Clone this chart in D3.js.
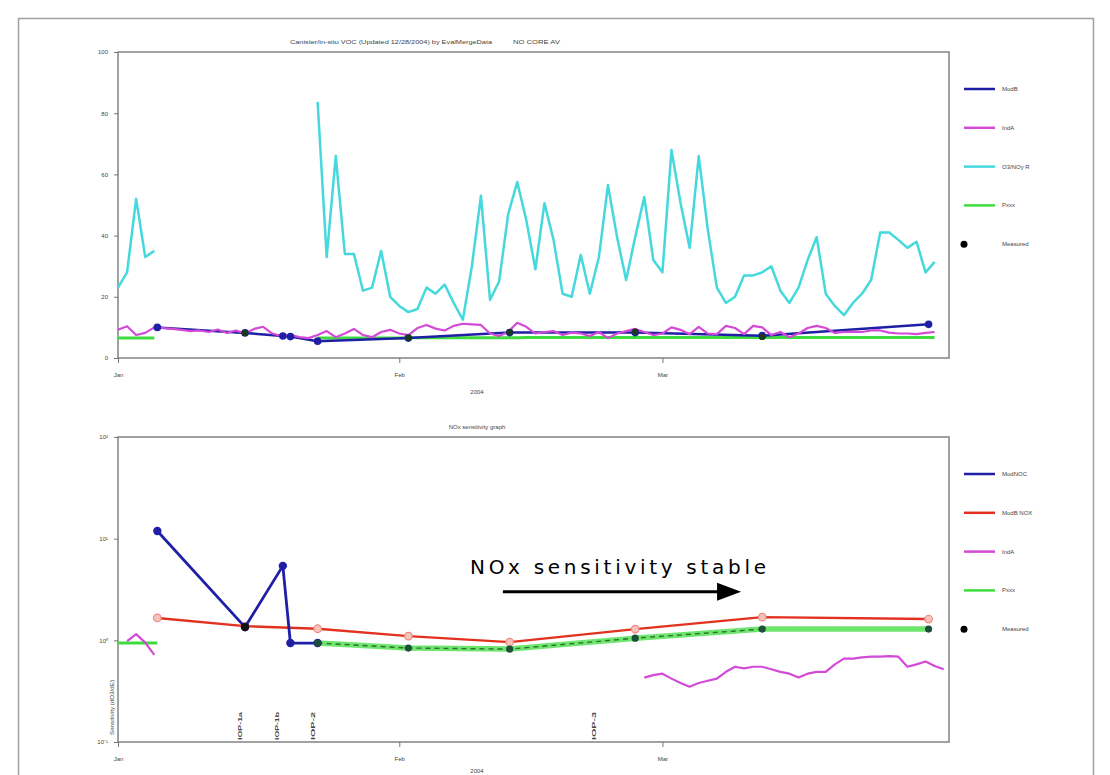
<!DOCTYPE html>
<html>
<head>
<meta charset="utf-8">
<script src="https://cdn.jsdelivr.net/npm/d3@7/dist/d3.min.js"></script>
<style>
  html,body{margin:0;padding:0;background:#fff;}
  svg{display:block;}
  .tiny{font-family:"Liberation Sans",Arial,sans-serif;font-size:6px;fill:#444;}
</style>
</head>
<body>
<svg id="chart" width="1110" height="775"></svg>
<script>
// ---------------- DATA ----------------
const monthTicks = ["2004-01-01","2004-02-01","2004-03-01"];
const monthLabels = ["Jan","Feb","Mar"];
const yearLabel = "2004";

const topTitle1 = "Canister/in-situ VOC (Updated 12/28/2004) by EvalMergeData";
const topTitle2 = "NO CORE AV";
const bottomTitle = "NOx sensitivity graph";

const topYTicks = [0,20,40,60,80,100];
const bottomYTicks = [0.1,1,10,100];
const bottomYLabels = ["10\u207B\u00B9","10\u2070","10\u00B9","10\u00B2"];

const topLegend = ["ModB","IndA","O3/NOy R","Pxxx","Measured"];
const bottomLegend = ["ModNOC","ModB NOX","IndA","Pxxx","Measured"];

// top panel: cyan daily series (two segments)
const cyanSeg1Start = "2004-01-01";
const cyanSeg1 = [23,28,52,33,35];
const cyanSeg2Start = "2004-01-23";
const cyanSeg2 = [83.7,33,66,34,34,22,23,35,20,17,15,16,23,21,24,18,12.5,30,53,19,25,47,57.5,45,29,50.6,38.6,21,20,33.7,21,33,56.5,39.5,25.5,39.5,52.6,32,28,68,50.6,36,66,42,23,
                  18,20,27,27,28,30,22,18,23,32,39.5,21,17,14,18,21,25.5,41,41,38.6,36,38,28,31.4];

// top panel: magenta daily series
const topMagentaStart = "2004-01-01";
const topMagenta = [9.2,10.4,7.5,8.2,10,
  9.8,9.5,9.2,8.8,9.0,8.5,9.3,8.2,9.0,
  8.0,9.5,10.2,8.0,7.2,7.5,6.8,6.5,
  7.5,8.8,6.8,8.0,9.5,7.5,6.8,8.5,9.2,
  8.0,7.5,9.8,10.8,9.6,9.0,10.5,11.2,11.0,10.8,
  8.0,7.2,8.5,11.5,10.2,8.0,8.5,8.8,7.5,8.3,
  8.0,7.2,8.5,6.5,8.0,8.8,9.5,8.5,7.5,8.0,
  10.0,9.2,7.8,10.2,8.0,7.8,10.5,9.8,7.8,10.5,
  10.0,7.5,8.5,6.8,8.0,9.8,10.5,9.8,8.2,8.5,
  8.6,8.5,9.0,9.0,8.3,8.0,8.0,7.8,8.2,8.5];

// top panel: green series (two segments)
const topGreenSeg1Start = "2004-01-01";
const topGreenSeg1 = [6.5,6.5,6.5,6.5,6.5];
const topGreenSeg2Start = "2004-01-23";
const topGreenSeg2 = [6.5,6.5,6.5,6.5,6.5,6.5,6.5,6.5,6.5,6.5,6.6,6.6,6.6,6.6,6.6,6.6,6.6,6.6,6.6,6.6,6.6,6.6,6.6,
  6.7,6.7,6.7,6.7,6.7,6.7,6.7,6.7,6.7,6.7,6.7,6.7,6.7,6.7,6.7,6.7,6.7,6.7,6.7,6.7,6.7,6.7,6.7,
  6.7,6.7,6.7,6.7,6.7,6.7,6.7,6.7,6.7,6.7,6.7,6.7,6.7,6.7,6.7,6.7,6.7,6.7,6.7,6.7,6.7,6.7,6.7];

// top panel: model (blue) points
const topModelDates = ["2004-01-05T08","2004-01-15T00","2004-01-19T04","2004-01-20T00","2004-01-23T00","2004-02-02T00","2004-02-13T04","2004-02-27T00","2004-03-12T00","2004-03-30T08"];
const topModelValues = [10,8.2,7.2,7,5.5,6.5,8.3,8.3,7.3,11];
// top panel: measured dots
const topMeasuredDates = ["2004-01-15T00","2004-02-02T00","2004-02-13T04","2004-02-27T00","2004-03-12T00"];
const topMeasuredValues = [8.2,6.6,8.4,8.6,6.9];

// bottom panel: ModNOC (blue)
const nocDates = ["2004-01-05T08","2004-01-15T00","2004-01-19T04","2004-01-20T00","2004-01-23T00"];
const nocValues = [11.9,1.35,5.4,0.94,0.94];
// bottom panel: NOX (red)
const noxDates = ["2004-01-05T08","2004-01-15T00","2004-01-23T00","2004-02-02T00","2004-02-13T04","2004-02-27T00","2004-03-12T00","2004-03-30T08"];
const noxValues = [1.66,1.38,1.3,1.10,0.96,1.29,1.69,1.62];
// bottom panel: green
const pSeg1Dates = ["2004-01-01T00","2004-01-05T08"];
const pSeg1Values = [0.94,0.94];
const pSeg2Dates = ["2004-01-23T00","2004-02-02T00","2004-02-13T04","2004-02-27T00","2004-03-12T00","2004-03-30T08"];
const pSeg2Values = [0.94,0.84,0.82,1.05,1.29,1.29];
// bottom panel: magenta
const indSeg1Start = "2004-01-02";
const indSeg1 = [0.98,1.15,0.95,0.72];
const indSeg2Start = "2004-02-28";
const indSeg2 = [0.43,0.455,0.47,0.42,0.38,0.35,0.38,0.40,0.42,0.49,0.55,0.53,0.55,0.55,0.52,0.49,0.47,0.43,0.47,0.49,0.49,0.58,0.66,0.66,0.68,0.69,0.69,0.70,0.69,0.55,0.58,0.62,0.56,0.52];
// bottom panel: measured dot
const bMeasuredDates = ["2004-01-15T00"];
const bMeasuredValues = [1.35];
// bottom panel: events
const eventDates = ["2004-01-14T12","2004-01-18T12","2004-01-22T12","2004-02-22T12"];
const eventLabels = ["IOP-1a","IOP-1b","IOP-2","IOP-3"];
const yAxisBottomLabel = "Sensitivity (dO3/dE)";

// annotation
const annotText = "NOx sensitivity stable";
const arrowDates = ["2004-02-12T10","2004-03-09T16"];
const arrowValue = 3;
const annotValue = 4.5;

// ---------------- DRAW ----------------
const pDay = d3.timeParse("%Y-%m-%d");
const pHour = d3.timeParse("%Y-%m-%dT%H");
const pd = s => s.length > 10 ? pHour(s) : pDay(s);
const daily = (start, vals) => vals.map((v,i) => ({date: d3.timeDay.offset(pd(start), i), v}));
const pts = (ds, vs) => ds.map((d,i) => ({date: pd(d), v: vs[i]}));

const svg = d3.select("#chart");
svg.append("rect").attr("x",0).attr("y",0).attr("width",1110).attr("height",775).attr("fill","#fff");
svg.append("rect").attr("x",18.5).attr("y",18.5).attr("width",1075).attr("height",780)
   .attr("fill","none").attr("stroke","#a0a0a0").attr("stroke-width",1.5);

const L = 118, R = 949;
const x = d3.scaleTime().domain([new Date(2004,0,1), new Date(2004,3,1,14)]).range([L,R]);
const yTop = d3.scaleLinear().domain([0,100]).range([358,52]);
const yBot = d3.scaleLog().domain([0.1,100]).range([742,437]);

const C = {blue:"#1f1fa6", magenta:"#d24ad6", cyan:"#45d8dc", green:"#3fdc3f", red:"#e2321f", black:"#000"};

function frame(y0,y1){
  svg.append("rect").attr("x",L).attr("y",y0).attr("width",R-L).attr("height",y1-y0)
     .attr("fill","none").attr("stroke","#8a8a8a").attr("stroke-width",1.6);
}
function axes(y, yTicks, yFmt, yBottomPx){
  const ga = svg.append("g").attr("transform",`translate(${L},0)`)
     .call(d3.axisLeft(y).tickValues(yTicks).tickFormat(yFmt).tickSize(4).tickPadding(6));
  ga.select(".domain").remove();
  ga.selectAll("line").attr("stroke","#777");
  ga.selectAll("text").attr("class","tiny").attr("font-size",null).attr("font-family",null).attr("fill","#444");
  const gx = svg.append("g").attr("transform",`translate(0,${yBottomPx})`)
     .call(d3.axisBottom(x).tickValues(monthTicks.map(pd)).tickFormat((d,i)=>monthLabels[i]).tickSize(5).tickPadding(10));
  gx.select(".domain").remove();
  gx.selectAll("line").attr("stroke","#777");
  gx.selectAll("text").attr("class","tiny").attr("font-size",null).attr("font-family",null).attr("fill","#444");
}

function drawLine(data, y, color, w, dash){
  const line = d3.line().defined(d=>d.v!=null).x(d=>x(d.date)).y(d=>y(d.v));
  svg.append("path").datum(data).attr("d",line).attr("fill","none")
     .attr("stroke",color).attr("stroke-width",w).attr("stroke-linejoin","round")
     .attr("stroke-dasharray",dash||null);
}
function drawDots(data, y, fill, r, stroke){
  svg.append("g").selectAll("circle").data(data).join("circle")
     .attr("cx",d=>x(d.date)).attr("cy",d=>y(d.v)).attr("r",r)
     .attr("fill",fill).attr("stroke",stroke||"none").attr("stroke-width",1.2);
}
function legend(items, colors, y0){
  const g = svg.append("g");
  items.forEach((t,i)=>{
    const yy = y0 + i*38.8;
    if (i < items.length-1) {
      g.append("line").attr("x1",964).attr("x2",995).attr("y1",yy).attr("y2",yy)
       .attr("stroke",colors[i]).attr("stroke-width",2.5);
    } else {
      g.append("circle").attr("cx",964).attr("cy",yy).attr("r",3.5).attr("fill","#000");
    }
    g.append("text").attr("x",1002).attr("y",yy+2).attr("class","tiny").attr("fill",colors[i]).text(t);
  });
}

// ---- TOP PANEL ----
svg.append("text").attr("x",290).attr("y",44).attr("class","tiny").attr("textLength",202).attr("lengthAdjust","spacingAndGlyphs").text(topTitle1);
svg.append("text").attr("x",513).attr("y",44).attr("class","tiny").attr("textLength",47).attr("lengthAdjust","spacingAndGlyphs").text(topTitle2);
frame(52,358);
axes(yTop, topYTicks, d=>String(d), 358);
svg.append("text").attr("x",477).attr("y",394).attr("class","tiny").attr("text-anchor","middle").text(yearLabel);

drawLine(daily(topGreenSeg1Start, topGreenSeg1), yTop, C.green, 3);
drawLine(daily(topGreenSeg2Start, topGreenSeg2), yTop, C.green, 3);
drawLine(daily(cyanSeg1Start, cyanSeg1), yTop, C.cyan, 2.5);
drawLine(daily(cyanSeg2Start, cyanSeg2), yTop, C.cyan, 2.5);
drawLine(pts(topModelDates, topModelValues), yTop, C.blue, 2.5);
drawLine(daily(topMagentaStart, topMagenta), yTop, C.magenta, 2.2);
drawDots(pts(topModelDates, topModelValues), yTop, C.blue, 3.8);
drawDots(pts(topMeasuredDates, topMeasuredValues), yTop, "#1a3a1a", 3.2);
legend(topLegend, [C.blue,C.magenta,C.cyan,C.green,"#000"], 89);

// ---- BOTTOM PANEL ----
svg.append("text").attr("x",477).attr("y",429).attr("class","tiny").attr("text-anchor","middle").text(bottomTitle);
frame(437,742);
axes(yBot, bottomYTicks, (d,i)=>bottomYLabels[i], 742);
svg.append("text").attr("x",477).attr("y",773).attr("class","tiny").attr("text-anchor","middle").text(yearLabel);
svg.append("text").attr("transform",`translate(114,735) rotate(-90)`).attr("class","tiny")
   .attr("textLength",55).attr("lengthAdjust","spacingAndGlyphs").text(yAxisBottomLabel);

// events
const ev = svg.append("g");
eventDates.forEach((d,i)=>{
  ev.append("text").attr("transform",`translate(${x(pd(d))+2},740) rotate(-90)`).attr("class","tiny")
    .attr("font-weight","bold").attr("fill","#222").attr("textLength",28).attr("lengthAdjust","spacingAndGlyphs").text(eventLabels[i]);
});

drawLine(pts(pSeg1Dates,pSeg1Values), yBot, C.green, 3);
drawLine(pts(pSeg2Dates,pSeg2Values), yBot, "#6ee66e", 5.5);
drawLine(pts(pSeg2Dates.slice(0,5),pSeg2Values.slice(0,5)), yBot, "#2f6f2f", 1.4, "5,4");
drawLine(pts(noxDates,noxValues), yBot, C.red, 2.4);
drawDots(pts(noxDates,noxValues), yBot, "#f6c2bd", 3.8, "#f08a80");
drawLine(daily(indSeg1Start, indSeg1), yBot, C.magenta, 2.2);
drawLine(daily(indSeg2Start, indSeg2), yBot, C.magenta, 2.2);
drawLine(pts(nocDates,nocValues), yBot, C.blue, 2.8);
drawDots(pts(nocDates,nocValues), yBot, C.blue, 4.2);
drawDots(pts(pSeg2Dates,pSeg2Values), yBot, "#1d4f3a", 3.6);
drawDots(pts(bMeasuredDates,bMeasuredValues), yBot, "#111", 4.2);
legend(bottomLegend, [C.blue,C.red,C.magenta,C.green,"#000"], 474);

// annotation arrow + text
const ax1 = x(pd(arrowDates[0])), ax2 = x(pd(arrowDates[1])), ay = yBot(arrowValue);
svg.append("line").attr("x1",ax1).attr("x2",ax2-22).attr("y1",ay).attr("y2",ay)
   .attr("stroke","#000").attr("stroke-width",3);
svg.append("path").attr("d",`M${ax2},${ay} L${ax2-24},${ay-9} L${ax2-24},${ay+9} Z`).attr("fill","#000");
svg.append("text").attr("x",(ax1+ax2)/2-4).attr("y",yBot(annotValue)).attr("text-anchor","middle")
   .attr("font-family","'DejaVu Sans',Verdana,sans-serif").attr("font-size",20).attr("fill","#000")
   .attr("textLength",296).attr("lengthAdjust","spacing").text(annotText);
</script>
</body>
</html>
